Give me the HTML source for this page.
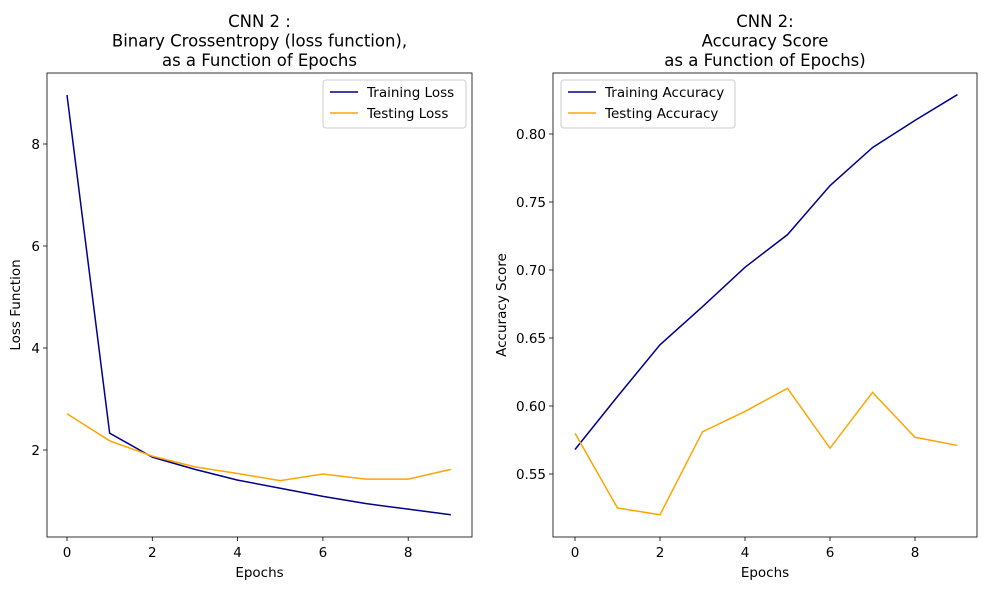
<!DOCTYPE html>
<html><head><meta charset="utf-8"><style>
body{margin:0;background:#fff;font-family:"Liberation Sans","DejaVu Sans",sans-serif}
svg text{font-family:"DejaVu Sans","Liberation Sans",sans-serif}
</style></head><body>
<svg id="c" width="988" height="589" xmlns="http://www.w3.org/2000/svg"></svg>
<script>
const epochs=[0,1,2,3,4,5,6,7,8,9];
const trainLoss=[8.96,2.33,1.86,1.62,1.41,1.25,1.09,0.95,0.84,0.73];
const testLoss=[2.71,2.18,1.88,1.67,1.54,1.40,1.53,1.43,1.43,1.62];
const trainAcc=[0.568,0.607,0.645,0.673,0.702,0.726,0.762,0.790,0.810,0.829];
const testAcc=[0.580,0.525,0.520,0.581,0.596,0.613,0.569,0.610,0.577,0.571];
const xTicks=[0,2,4,6,8];
const lossTicks=[2,4,6,8];
const accTicks=[0.55,0.60,0.65,0.70,0.75,0.80];
const NS="http://www.w3.org/2000/svg";
const svg=document.getElementById('c');
function mk(t,a,p){const e=document.createElementNS(NS,t);for(const k in a)e.setAttribute(k,a[k]);(p||svg).appendChild(e);return e;}
function panel(cfg){
 const g=mk('g',{});
 
 
 const X=v=>cfg.x0+(v-0)*cfg.xs, Y=v=>cfg.y0-(v-cfg.yv0)*cfg.ys;
 cfg.series.forEach(s=>{
  const p=mk('polyline',{points:s.data.map((v,i)=>X(epochs[i])+','+Y(v)).join(' '),fill:'none',stroke:s.color,'stroke-width':1.5},g);
  
  
 });
 const r=mk('rect',{x:cfg.L,y:73,width:cfg.R-cfg.L,height:464,fill:'none',stroke:'#000','stroke-width':0.8},g);
 
 
 xTicks.forEach(t=>{const x=X(t);mk('line',{x1:x,y1:537,x2:x,y2:541,stroke:'#000','stroke-width':0.8},g);
  const tx=mk('text',{x:x,y:557,'font-size':13.5,'text-anchor':'middle'},g);tx.textContent=t;
  });
 cfg.yt.forEach(t=>{const y=Y(t);mk('line',{x1:cfg.L-4,y1:y,x2:cfg.L,y2:y,stroke:'#000','stroke-width':0.8},g);
  const tx=mk('text',{x:cfg.L-7,y:y+5,'font-size':13.5,'text-anchor':'end'},g);tx.textContent=cfg.fmt(t);
  });
 const xl=mk('text',{x:(cfg.L+cfg.R)/2,y:577,'font-size':13.5,'text-anchor':'middle'},g);xl.textContent='Epochs';
 
 const yl=mk('text',{x:cfg.ylx,y:305,'font-size':13.5,'text-anchor':'middle',transform:`rotate(-90 ${cfg.ylx} 305)`},g);yl.textContent=cfg.ylabel;
 
 cfg.title.forEach((t,i)=>{const tt=mk('text',{x:(cfg.L+cfg.R)/2,y:27+i*19.5,'font-size':16.5,'text-anchor':'middle'},g);tt.textContent=t;
  });
 const lg=mk('g',{},g);
 
 mk('rect',{x:cfg.lx,y:80,width:cfg.lw,height:48,rx:3,fill:'#fff',stroke:'#ccc'},lg);
 cfg.series.forEach((s,i)=>{const y=92+i*21;
  mk('line',{x1:cfg.lx+7,y1:y,x2:cfg.lx+35,y2:y,stroke:s.color,'stroke-width':1.5},lg);
  const t=mk('text',{x:cfg.lx+44,y:y+5,'font-size':13.5},lg);t.textContent=s.label;
  });
}
panel({name:'loss-chart',L:47,R:472,x0:67,xs:42.65,y0:450,yv0:2,ys:51,yt:lossTicks,fmt:t=>t,ylx:20,ylabel:'Loss Function',
 title:['CNN 2 :','Binary Crossentropy (loss function),','as a Function of Epochs'],lx:323,lw:143,
 series:[{id:'training-loss-line',data:trainLoss,color:'#00008b',label:'Training Loss'},{id:'testing-loss-line',data:testLoss,color:'#ffa500',label:'Testing Loss'}]});
panel({name:'accuracy-chart',L:553,R:977,x0:575,xs:42.5,y0:474,yv0:0.55,ys:1360,yt:accTicks,fmt:t=>t.toFixed(2),ylx:506,ylabel:'Accuracy Score',
 title:['CNN 2:','Accuracy Score','as a Function of Epochs)'],lx:561,lw:174,
 series:[{id:'training-accuracy-line',data:trainAcc,color:'#00008b',label:'Training Accuracy'},{id:'testing-accuracy-line',data:testAcc,color:'#ffa500',label:'Testing Accuracy'}]});
</script>
</body></html>
